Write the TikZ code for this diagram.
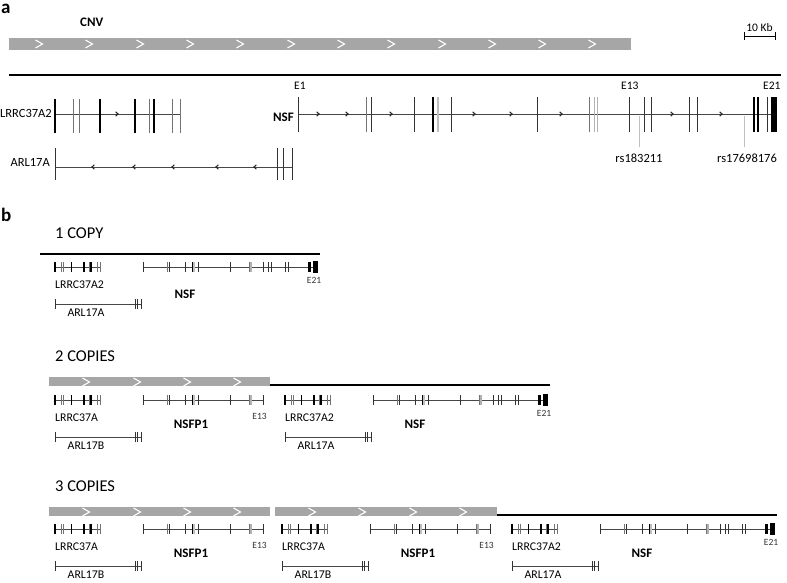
\documentclass[tikz,border=0pt]{standalone}
\usepackage{fontspec}
\setmainfont{Carlito}
\definecolor{cnvgray}{HTML}{A6A6A6}
\newcommand{\fs}[1]{\fontsize{#1}{#1}\selectfont}
\tikzset{
  gl/.style={draw=black!72, line width=0.8},
  exm/.style={draw=black!55, line width=1},
  exd/.style={draw=black!80, line width=1},
  exk/.style={draw=black, line width=2.2},
  exkb/.style={draw=black, line width=1.6},
  exl/.style={draw=black!30, line width=1},
  exll/.style={draw=black!25, line width=2.4},
  snp/.style={draw=black!25, line width=0.7},
  chev/.style={draw=white, line width=1.1},
  arr/.style={draw=black!85, line width=1.1},
  cnv/.style={fill=cnvgray, draw=none},
  chrom/.style={draw=black, line width=1.8},
  ta/.style={inner sep=0, font=\fs{12.5}},
  tab/.style={inner sep=0, font=\bfseries\fs{13}},
  te/.style={inner sep=0, font=\fs{11.5}},
  tb/.style={inner sep=0, font=\fs{11.8}},
  tbs/.style={inner sep=0, font=\fs{9.5}, text=black!80},
  tt/.style={inner sep=0, font=\fs{16.5}},
  tp/.style={inner sep=0, font=\bfseries\fs{19}}
}
\newcommand{\exons}[4]{\foreach \xx in {#2} \draw[#1] (\xx,#3) -- (\xx,#4);}
\newcommand{\LRRCg}[3]{%
  \draw[gl] (55,#1) -- (180,#1);
  \exons{exk}{55,154}{#2}{#3}
  \exons{exkb}{100,135}{#2}{#3}
  \exons{exm}{73,79,149,172,180}{#2}{#3}}
\newcommand{\ARLg}[3]{%
  \draw[gl] (55,#1) -- (292,#1);
  \exons{exd}{55,277,283,292}{#2}{#3}}
\newcommand{\NSFa}[2]{%
  \exons{exd}{298,371,414,451,537,629}{#1}{#2}
  \exons{exm}{366,589}{#1}{#2}
  \exons{exkb}{433}{#1}{#2}
  \exons{exll}{438}{#1}{#2}
  \exons{exl}{594,597}{#1}{#2}}
\newcommand{\NSFb}[2]{%
  \exons{exd}{644,651,689,697,767}{#1}{#2}
  \exons{exk}{754}{#1}{#2}
  \exons{exkb}{758}{#1}{#2}}
\newcommand{\chevs}[2]{\foreach \xx in {#1} \draw[chev] (\xx-3.5,#2-4) -- (\xx+3.5,#2) -- (\xx-3.5,#2+4);}
% copy with pseudogene (LRRC37A / NSFP1 / ARL17B)
\newcommand{\copyP}[3]{%
  \begin{scope}[shift={(35.02+#1,0)}, xscale=0.3633]
    \LRRCg{#2}{#2-5}{#2+5}
    \ARLg{#2+37}{#2-5+37}{#2+5+37}
    \draw[gl] (298,#2) -- (629,#2);
    \NSFa{#2-5}{#2+5}
  \end{scope}
  \node[tb, anchor=base west] (#3l) at (55+#1,#2+21.5) {LRRC37A};
  \node[tab, anchor=base] (#3n) at (191+#1,#2+28) {NSFP1};
  \node[tbs, anchor=base] (#3e) at (259.5+#1,#2+19.5) {E13};
  \node[tb, anchor=base] (#3a) at (86+#1,#2+49.5) {ARL17B};}
% copy with functional genes (LRRC37A2 / NSF / ARL17A)
\newcommand{\copyN}[4]{%
  \begin{scope}[shift={(35.02+#1,0)}, xscale=0.3633]
    \LRRCg{#2}{#2-5}{#2+5}
    \ARLg{#2+37}{#2-5+37}{#2+5+37}
    \draw[gl] (298,#2) -- (764,#2);
    \NSFa{#2-5}{#2+5}
    \NSFb{#2-5}{#2+5}
    \fill (764,#2-6) rectangle (780,#2+6);
  \end{scope}
  \node[tb, anchor=base west] (#3l) at (55+#1,#2+21.5) {LRRC37A2};
  \node[tab, anchor=base] (#3n) at (185+#1,#2+#4) {NSF};
  \node[tbs, anchor=base] (#3e) at (314+#1,#2+16) {E21};
  \node[tb, anchor=base] (#3a) at (86+#1,#2+49.5) {ARL17A};}
\begin{document}
\begin{tikzpicture}[x=1pt,y=-1pt]
\useasboundingbox (0,0) rectangle (787,583);
% ---------- panel a ----------
\node[tp, anchor=base west] (pa) at (1,13.5) {a};
\node[tab, anchor=base west] (cnvl) at (80,27) {CNV};
\fill[cnv] (9,38) rectangle (631,50);
\chevs{39,89,140,190,240,291,341,391,442,492,542,592}{44}
\draw[line width=0.8] (744,36) -- (775,36) (744,32) -- (744,40) (775,32) -- (775,40);
\node[te, anchor=base] (kb) at (759.5,31.5) {10 Kb};
\draw[chrom] (9,75) -- (781,75);
% genes
\LRRCg{114}{99}{133}
\ARLg{167}{148}{180}
\draw[gl] (298,114) -- (771,114);
\NSFa{97}{132}
\NSFb{97}{132}
\fill (771,97) rectangle (777,132);
\draw[snp] (639,116) -- (639,147) (744,116) -- (744,147);
\foreach \xx in {117,318,347,391,474,511,561,672,721}
  \draw[arr] (\xx-1.3,111.8) -- (\xx+1,114) -- (\xx-1.3,116.2);
\foreach \xx in {93,134,173,217,255}
  \draw[arr] (\xx+1.3,164.8) -- (\xx-1,167) -- (\xx+1.3,169.2);
\node[ta, anchor=base east] (lrrca) at (52,118) {LRRC37A2};
\node[ta, anchor=base east] (arla) at (50,167) {ARL17A};
\node[tab, anchor=base east] (nsfa) at (294,122) {NSF};
\node[te, anchor=base west] (e1) at (294,90) {E1};
\node[te, anchor=base west] (e13) at (621,90) {E13};
\node[te, anchor=base west] (e21) at (763,90) {E21};
\node[ta, anchor=base] (rs1) at (639,162) {rs183211};
\node[ta, anchor=base] (rs2) at (747,162) {rs17698176};
% ---------- panel b ----------
\node[tp, anchor=base west] (pb) at (1,221) {b};
% 1 copy
\node[tt, anchor=base west] (c1) at (55,238) {1 COPY};
\draw[chrom] (40,254) -- (320,254);
\copyN{0}{267}{oa}{31}
% 2 copies
\node[tt, anchor=base west] (c2) at (55,361) {2 COPIES};
\fill[cnv] (49,377) rectangle (270,386);
\chevs{86,137,187,237}{382}
\draw[chrom] (270,385) -- (550,385);
\copyP{0}{400}{ta}
\copyN{230}{400}{tb}{28}
% 3 copies
\node[tt, anchor=base west] (c3) at (55,491) {3 COPIES};
\fill[cnv] (49,507) rectangle (270,516);
\fill[cnv] (275,507) rectangle (497,516);
\chevs{86,137,187,237,312,362,413,463}{512}
\draw[chrom] (497,515) -- (777,515);
\copyP{0}{529}{ha}
\copyP{227}{529}{hb}
\copyN{457}{529}{hc}{28}
\end{tikzpicture}
\end{document}
